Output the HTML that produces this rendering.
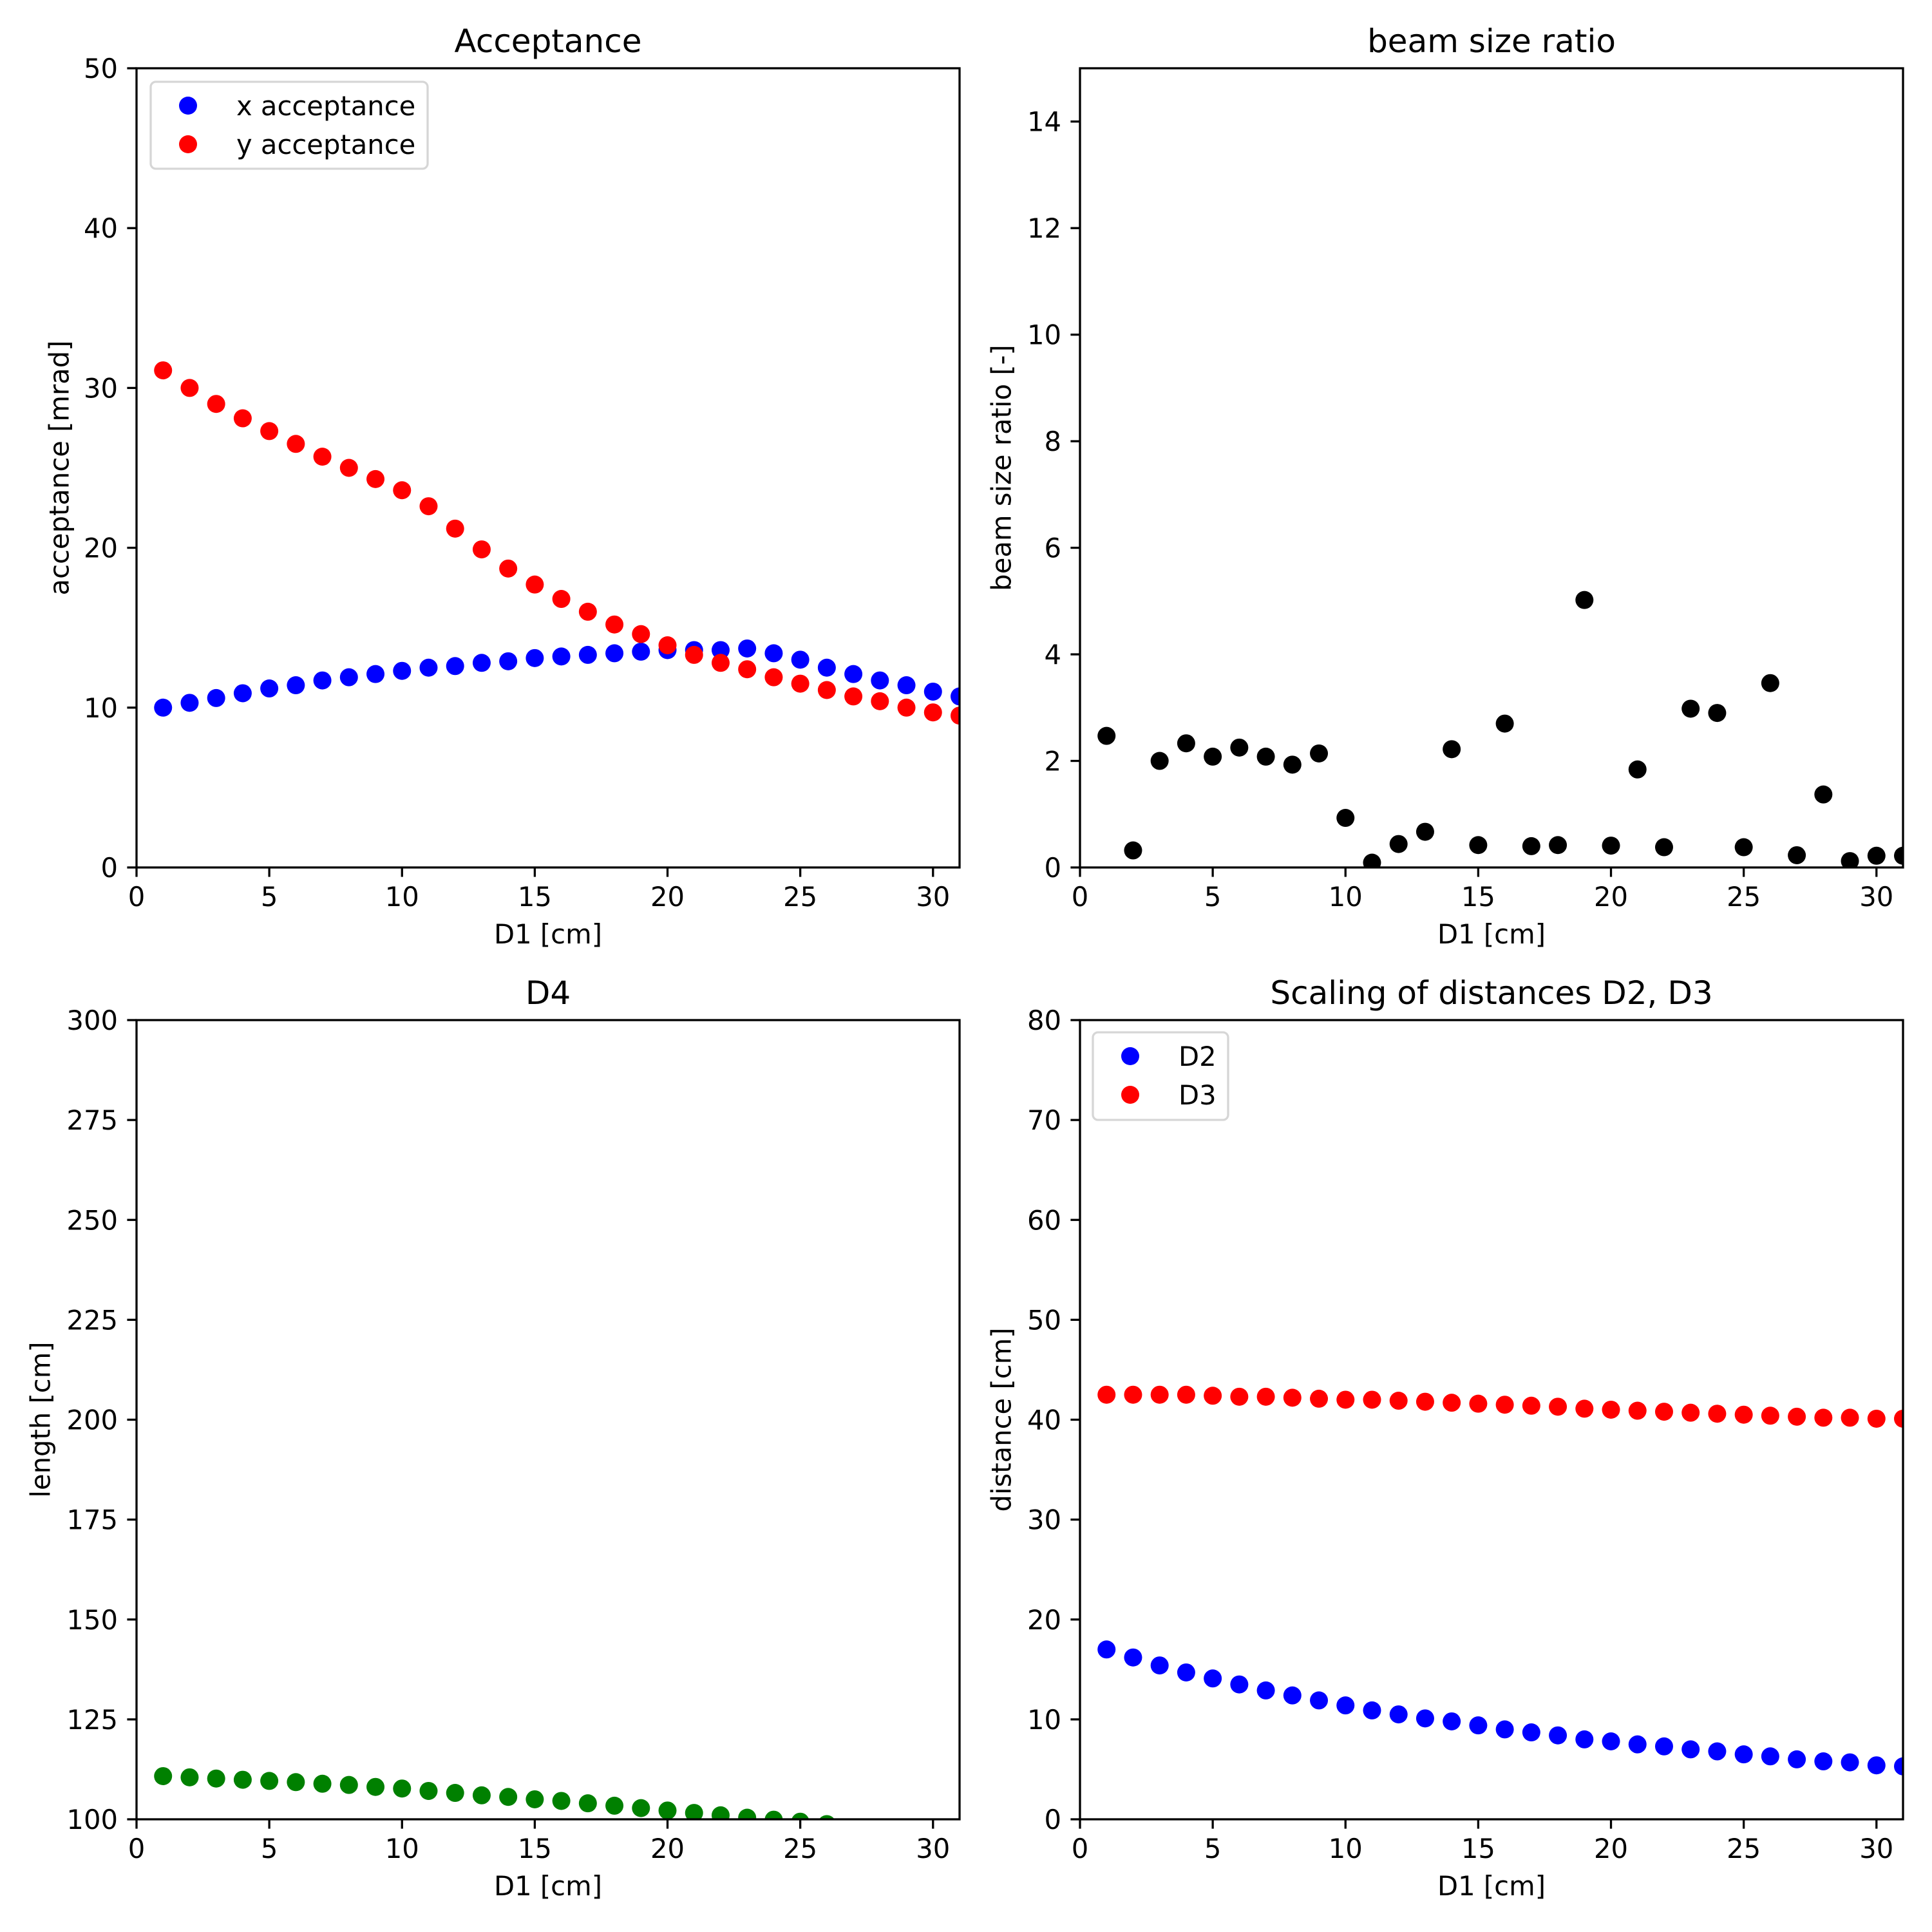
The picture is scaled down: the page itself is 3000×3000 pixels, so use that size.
<!DOCTYPE html>
<html><head><meta charset="utf-8"><style>
html,body{margin:0;padding:0;background:#fff}
svg{display:block}
text{font-family:"DejaVu Sans","Liberation Sans",sans-serif;fill:#000}
</style></head><body>
<svg id="fig" xmlns="http://www.w3.org/2000/svg" width="3000" height="3000" viewBox="0 0 3000 3000">
<rect width="3000" height="3000" fill="#fff"/>
</svg>
<script>
const d1 = [1,2,3,4,5,6,7,8,9,10,11,12,13,14,15,16,17,18,19,20,21,22,23,24,25,26,27,28,29,30,31];
const xAcc = [10.0,10.3,10.6,10.9,11.2,11.4,11.7,11.9,12.1,12.3,12.5,12.6,12.8,12.9,13.1,13.2,13.3,13.4,13.5,13.6,13.6,13.6,13.7,13.4,13.0,12.5,12.1,11.7,11.4,11.0,10.7];
const yAcc = [31.1,30.0,29.0,28.1,27.3,26.5,25.7,25.0,24.3,23.6,22.6,21.2,19.9,18.7,17.7,16.8,16.0,15.2,14.6,13.9,13.3,12.8,12.4,11.9,11.5,11.1,10.7,10.4,10.0,9.7,9.5];
const ratio = [2.47,0.32,2.0,2.33,2.08,2.25,2.08,1.93,2.14,0.93,0.09,0.44,0.67,2.22,0.42,2.70,0.40,0.42,5.02,0.41,1.84,0.38,2.98,2.90,0.38,3.46,0.23,1.37,0.12,0.22,0.22];
const d4 = [110.8,110.5,110.2,109.9,109.6,109.3,108.9,108.6,108.1,107.7,107.1,106.6,106.0,105.6,105.0,104.6,104.0,103.4,102.8,102.2,101.6,101.0,100.4,99.9,99.4,98.8,97.4,96.8,96.2,95.6,95.0];
const d2 = [17.0,16.2,15.4,14.7,14.1,13.5,12.9,12.4,11.9,11.4,10.9,10.5,10.1,9.8,9.4,9.0,8.7,8.4,8.0,7.8,7.5,7.3,7.0,6.8,6.5,6.3,6.0,5.8,5.7,5.4,5.3];
const d3 = [42.5,42.5,42.5,42.5,42.4,42.3,42.3,42.2,42.1,42.0,42.0,41.9,41.8,41.7,41.6,41.5,41.4,41.3,41.1,41.0,40.9,40.8,40.7,40.6,40.5,40.4,40.3,40.2,40.2,40.1,40.1];
const xTicks = [0,5,10,15,20,25,30];
const accTicks = [0,10,20,30,40,50];
const ratioTicks = [0,2,4,6,8,10,12,14];
const d4Ticks = [100,125,150,175,200,225,250,275,300];
const distTicks = [0,10,20,30,40,50,60,70,80];

const NS = "http://www.w3.org/2000/svg";
const fig = document.getElementById('fig');
function mk(tag, attrs, parent){
  const e = document.createElementNS(NS, tag);
  for (const k in attrs) e.setAttribute(k, attrs[k]);
  (parent||fig).appendChild(e);
  return e;
}
const W = 1278, H = 1241;
let clipId = 0;
function panel(name, L, T, xmin, xmax, ymin, ymax, yt, title, ylabel, ylabX, series, legend){
  const g = mk('g', {});
  
  
  const xs = v => L + (v - xmin) / (xmax - xmin) * W;
  const ys = v => T + H - (v - ymin) / (ymax - ymin) * H;
  const cid = 'c' + (clipId++);
  const cp = mk('clipPath', {id: cid}, g);
  mk('rect', {x: L, y: T, width: W, height: H}, cp);
  const marks = mk('g', {'clip-path': 'url(#' + cid + ')'}, g);
  series.forEach(s => {
    const sg = mk('g', {}, marks);
    
    
    s.xv.forEach((xv, i) => {
      const c = mk('circle', {cx: xs(xv), cy: ys(s.yv[i]), r: 14, fill: s.color}, sg);
      
      
    });
  });
  xTicks.forEach(t => {
    const x = xs(t);
    mk('line', {x1: x, x2: x, y1: T + H, y2: T + H + 14.6, stroke: '#000', 'stroke-width': 3.3}, g);
    const tx = mk('text', {x: x, y: T + H + 60, 'font-size': 41.7, 'text-anchor': 'middle'}, g);
    tx.textContent = t;
    
    
  });
  yt.forEach(t => {
    const y = ys(t);
    mk('line', {x1: L - 14.6, x2: L, y1: y, y2: y, stroke: '#000', 'stroke-width': 3.3}, g);
    const tx = mk('text', {x: L - 29, y: y + 15, 'font-size': 41.7, 'text-anchor': 'end'}, g);
    tx.textContent = t;
    
    
  });
  mk('rect', {x: L, y: T, width: W, height: H, fill: 'none', stroke: '#000', 'stroke-width': 3.3}, g);
  const tt = mk('text', {x: L + W / 2, y: T - 25, 'font-size': 50, 'text-anchor': 'middle'}, g);
  tt.textContent = title;
  
  
  const xl = mk('text', {x: L + W / 2, y: T + H + 118, 'font-size': 41.7, 'text-anchor': 'middle'}, g);
  xl.textContent = 'D1 [cm]';
  
  
  const yl = mk('text', {x: 0, y: 0, 'font-size': 41.7, 'text-anchor': 'middle', 'dominant-baseline': 'central', transform: 'translate(' + ylabX + ',' + (T + H / 2) + ') rotate(-90)'}, g);
  yl.textContent = ylabel;
  
  
  if (legend) {
    const lg = mk('g', {}, g);
    
    
    mk('rect', {x: legend.x, y: legend.y, width: legend.w, height: legend.h, rx: 8, fill: '#fff', 'fill-opacity': 0.8, stroke: '#d6d6d6', 'stroke-width': 3.3}, lg);
    legend.items.forEach((it, i) => {
      const cy = legend.y + 37 + i * 60;
      const c = mk('circle', {cx: legend.x + 58, cy: cy, r: 14, fill: it.color}, lg);
      
      
      const t = mk('text', {x: legend.x + 133, y: cy + 15, 'font-size': 41.7}, lg);
      t.textContent = it.label;
      
      
    });
  }
}
panel('acceptance-panel', 212, 106, 0, 31, 0, 50, accTicks, 'Acceptance', 'acceptance [mrad]', 92,
  [{name: 'x-acceptance-series', xv: d1, yv: xAcc, color: '#0000ff'},
   {name: 'y-acceptance-series', xv: d1, yv: yAcc, color: '#ff0000'}],
  {x: 234, y: 127, w: 430, h: 135, items: [{label: 'x acceptance', color: '#0000ff'}, {label: 'y acceptance', color: '#ff0000'}]});
panel('beam-size-ratio-panel', 1677, 106, 0, 31, 0, 15, ratioTicks, 'beam size ratio', 'beam size ratio [-]', 1555,
  [{name: 'beam-ratio-series', xv: d1, yv: ratio, color: '#000000'}], null);
panel('d4-panel', 212, 1584, 0, 31, 100, 300, d4Ticks, 'D4', 'length [cm]', 63,
  [{name: 'd4-series', xv: d1, yv: d4, color: '#008000'}], null);
panel('distances-panel', 1677, 1584, 0, 31, 0, 80, distTicks, 'Scaling of distances D2, D3', 'distance [cm]', 1555,
  [{name: 'd2-series', xv: d1, yv: d2, color: '#0000ff'},
   {name: 'd3-series', xv: d1, yv: d3, color: '#ff0000'}],
  {x: 1697, y: 1603, w: 210, h: 136, items: [{label: 'D2', color: '#0000ff'}, {label: 'D3', color: '#ff0000'}]});
</script>
</body></html>
